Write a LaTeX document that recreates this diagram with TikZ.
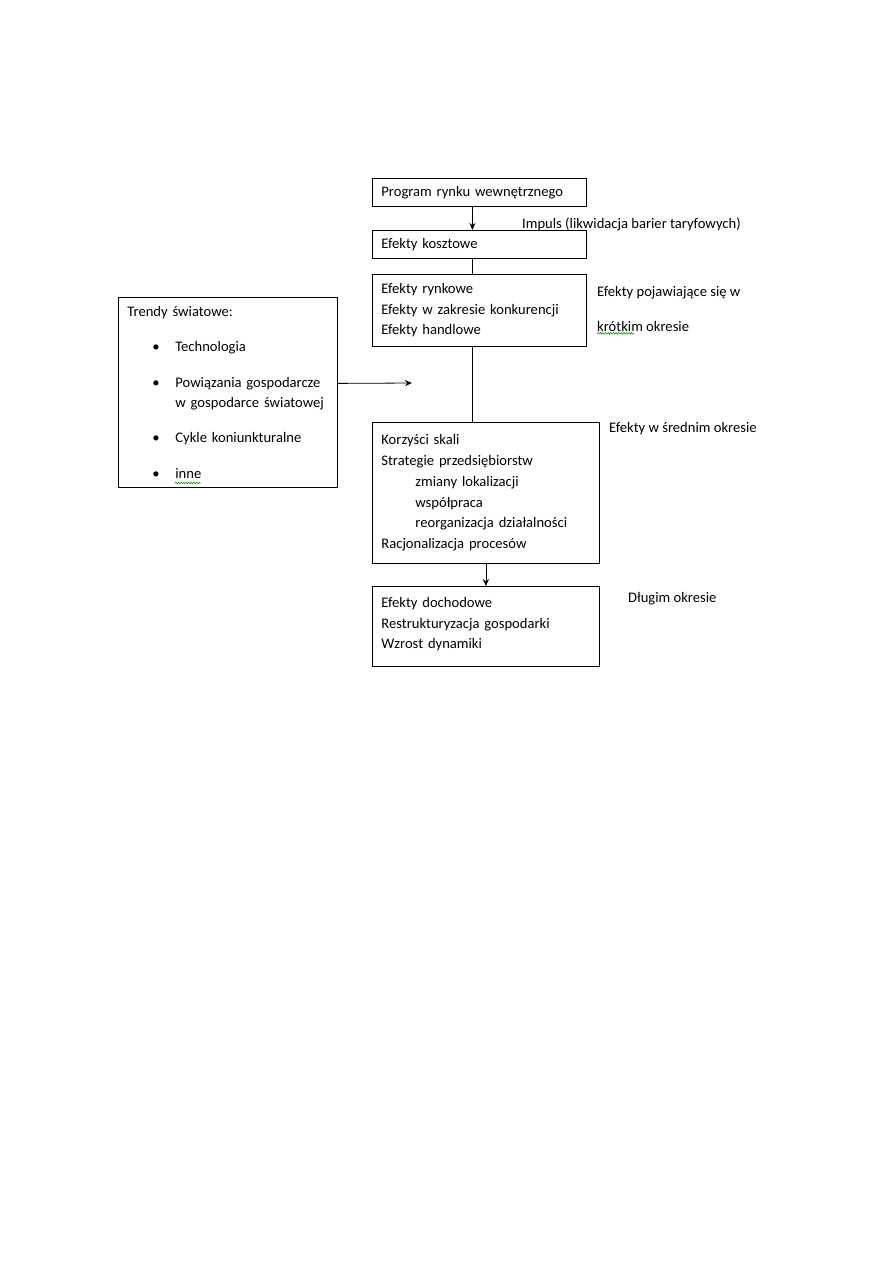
\documentclass[tikz,border=0pt]{standalone}
\usepackage{fontspec}
\setmainfont{Carlito}
\usetikzlibrary{positioning,arrows.meta,decorations.pathmorphing}

\begin{document}
\begin{tikzpicture}[x=1pt, y=-1pt, font=\fontsize{14.6}{20.7}\selectfont,
    box/.style={draw, line width=0.8pt, anchor=north west, align=left, inner xsep=9pt, inner ysep=0pt},
    opis/.style={anchor=west, inner sep=0pt},
    strz/.style={-{Stealth[length=7pt,width=6pt]}, line width=0.8pt},
    linia/.style={line width=0.8pt},
    fala/.style={green!55!black, line width=0.5pt, decorate, decoration={snake, amplitude=0.9pt, segment length=2.6pt}}]
    \useasboundingbox (0,0) rectangle (893,1263);

    \node[box, text width=196pt, minimum height=28pt] (program) at (372,178) {Program rynku wewnętrznego};
    \node[box, text width=196pt, minimum height=28pt] (koszt) at (372,230) {Efekty kosztowe};
    \node[box, text width=196pt, minimum height=72pt] (rynek) at (372,274) {Efekty rynkowe\\ Efekty w zakresie konkurencji\\ Efekty handlowe};
    \node[box, text width=201pt, minimum height=190pt] (trendy) at (118,297) {Trendy światowe:\\[14pt]
        \hspace*{25pt}\makebox[23pt][l]{\textbullet}Technologia\\[15pt]
        \hspace*{25pt}\makebox[23pt][l]{\textbullet}Powiązania gospodarcze\\
        \hspace*{48pt}w gospodarce światowej\\[14pt]
        \hspace*{25pt}\makebox[23pt][l]{\textbullet}Cykle koniunkturalne\\[15pt]
        \hspace*{25pt}\makebox[23pt][l]{\textbullet}inne};
    \node[box, text width=209pt, minimum height=141pt] (srednie) at (372,422) {Korzyści skali\\ Strategie przedsiębiorstw\\
        \hspace*{34pt}zmiany lokalizacji\\ \hspace*{34pt}współpraca\\ \hspace*{34pt}reorganizacja działalności\\ Racjonalizacja procesów};
    \node[box, text width=209pt, minimum height=80pt] (dlugie) at (372,586) {Efekty dochodowe\\ Restrukturyzacja gospodarki\\ Wzrost dynamiki\\[-14pt]\mbox{}};

    % opisy okresow
    \node[opis] (impuls) at (522,224) {Impuls (likwidacja barier taryfowych)};
    \node[opis] (krotki1) at (597,293) {Efekty pojawiające się w};
    \node[opis] (krotki2) at (597,326) {krótkim okresie};
    \node[opis] (sredni) at (609,429) {Efekty w średnim okresie};
    \node[opis] (dlugi) at (628,599) {Długim okresie};

    \coordinate (cel) at (412,383);

    \draw[strz] ([xshift=-7pt]program.south) -- ([xshift=-7pt]koszt.north);
    \draw[linia] ([xshift=-7pt]koszt.south) -- ([xshift=-7pt]rynek.north);
    \draw[linia] ([xshift=-7pt]rynek.south) -- ([xshift=-7pt]rynek.south |- srednie.north);
    \draw[strz] (srednie.south) -- (dlugie.north);
    \draw[strz] ([yshift=9pt]trendy.east) -- (cel);

    % podkreslenia
    \draw[fala] (krotki2.south west) ++(0,2) -- ++(37,0);
    \draw[fala] (175,483) -- (201,483);
\end{tikzpicture}
\end{document}
